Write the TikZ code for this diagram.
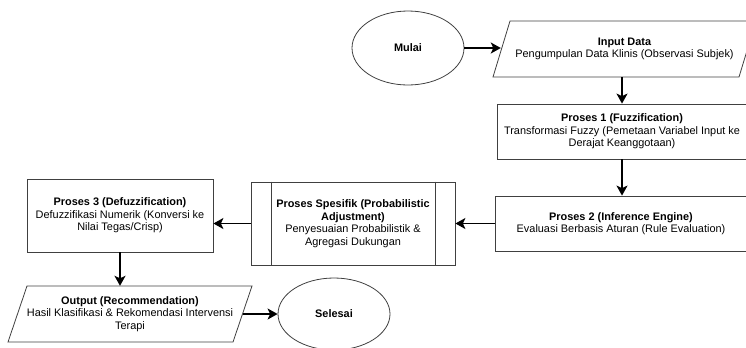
\documentclass[tikz,border=0pt]{standalone}
\usepackage{fontspec}
\setmainfont{Liberation Sans}
\usetikzlibrary{shapes.geometric,arrows.meta}
\newcommand{\fs}{\fontsize{10.95}{12.6}\selectfont}
\tikzset{
  shapeline/.style={draw=black!75, line width=0.8bp},
  box/.style={shapeline, rectangle, inner sep=0pt, align=center, font=\fs},
  txt/.style={rectangle, inner sep=0pt, align=center, font=\fs},
  term/.style={shapeline, ellipse, inner sep=0pt, align=center, font=\fs\bfseries},
  arr/.style={line width=1.6bp, -{Stealth[length=10bp,width=11bp,inset=2.5bp]}}
}
\begin{document}
\begin{tikzpicture}[x=1bp,y=-1bp]
\useasboundingbox (0,0) rectangle (746,347);
% Start
\node[term, minimum width=112bp, minimum height=74bp] (mulai) at (408,48) {Mulai};
% Input parallelogram
\draw[shapeline] (493,77) -- (510,21) -- (756,21) -- (739,77) -- cycle;
\node[txt, minimum width=247bp, minimum height=56bp] (input) at (624.5,49)
  {\textbf{Input Data}\\Pengumpulan Data Klinis (Observasi Subjek)};
% Proses 1
\node[box, minimum width=250bp, minimum height=55bp] (p1) at (622,131.5)
  {\textbf{Proses 1 (Fuzzification)}\\Transformasi Fuzzy (Pemetaan Variabel Input ke\\Derajat Keanggotaan)};
% Proses 2
\node[box, minimum width=251bp, minimum height=55bp] (p2) at (621,223.5)
  {\textbf{Proses 2 (Inference Engine)}\\Evaluasi Berbasis Aturan (Rule Evaluation)};
% Proses Spesifik
\node[box, minimum width=204bp, minimum height=83bp] (ps) at (353,223.5)
  {\textbf{Proses Spesifik (Probabilistic}\\\textbf{Adjustment)}\\Penyesuaian Probabilistik \&\\Agregasi Dukungan};
\draw[shapeline] ([xshift=21bp]ps.north west) -- ([xshift=21bp]ps.south west);
\draw[shapeline] ([xshift=-20bp]ps.north east) -- ([xshift=-20bp]ps.south east);
% Proses 3
\node[box, minimum width=186bp, minimum height=73bp] (p3) at (120,215.5)
  {\textbf{Proses 3 (Defuzzification)}\\Defuzzifikasi Numerik (Konversi ke\\Nilai Tegas/Crisp)};
% Output parallelogram
\draw[shapeline] (8,342) -- (27,286) -- (252,286) -- (233,342) -- cycle;
\node[txt, minimum width=225bp, minimum height=56bp] (output) at (130,314)
  {\textbf{Output (Recommendation)}\\Hasil Klasifikasi \& Rekomendasi Intervensi\\Terapi};
% End
\node[term, minimum width=112bp, minimum height=72bp] (selesai) at (334,314) {Selesai};
% Connectors
\draw[arr] (mulai.east) -- (mulai.east -| input.west);
\draw[arr] (input.south -| p1.north) -- (p1.north);
\draw[arr] (p1.south) -- (p2.north -| p1.south);
\draw[arr] (p2.west) -- (p2.west -| ps.east);
\draw[arr] (ps.west) -- (ps.west -| p3.east);
\draw[arr] (p3.south) -- (p3.south |- output.north);
\draw[arr] (output.east) -- (selesai.west);
\end{tikzpicture}
\end{document}
